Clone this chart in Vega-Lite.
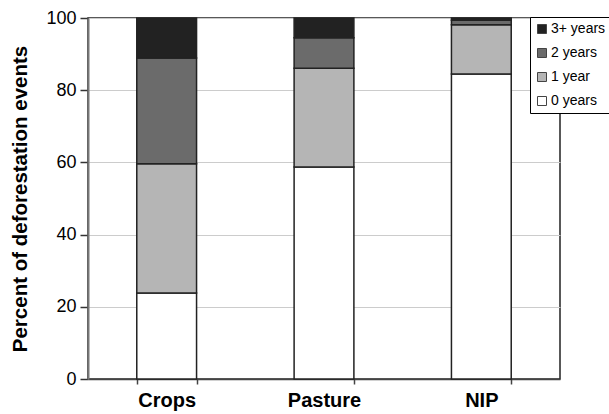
{
  "$schema": "https://vega.github.io/schema/vega-lite/v6.json",
  "width": 472,
  "height": 361,
  "autosize": {"type": "none"},
  "padding": {"left": 88, "top": 18, "right": 49, "bottom": 35},
  "background": "white",
  "config": {
    "font": "Liberation Sans",
    "view": {"stroke": "#222", "strokeWidth": 1.5}
  },
  "data": {
    "values": [
      {"use": "Crops", "age": "0 years", "order": 0, "pct": 23.8},
      {"use": "Crops", "age": "1 year", "order": 1, "pct": 35.8},
      {"use": "Crops", "age": "2 years", "order": 2, "pct": 29.3},
      {"use": "Crops", "age": "3+ years", "order": 3, "pct": 11.1},
      {"use": "Pasture", "age": "0 years", "order": 0, "pct": 58.7},
      {"use": "Pasture", "age": "1 year", "order": 1, "pct": 27.4},
      {"use": "Pasture", "age": "2 years", "order": 2, "pct": 8.4},
      {"use": "Pasture", "age": "3+ years", "order": 3, "pct": 5.5},
      {"use": "NIP", "age": "0 years", "order": 0, "pct": 84.5},
      {"use": "NIP", "age": "1 year", "order": 1, "pct": 13.6},
      {"use": "NIP", "age": "2 years", "order": 2, "pct": 1.3},
      {"use": "NIP", "age": "3+ years", "order": 3, "pct": 0.6}
    ]
  },
  "mark": {"type": "bar", "stroke": "#222", "strokeWidth": 1.5},
  "encoding": {
    "x": {
      "field": "use",
      "type": "nominal",
      "sort": ["Crops", "Pasture", "NIP"],
      "scale": {"paddingInner": 0.62, "paddingOuter": 0.31},
      "axis": {
        "title": null,
        "labelAngle": 0,
        "labelFontSize": 20,
        "labelFontWeight": "bold",
        "labelColor": "#000",
        "labelPadding": 6,
        "tickBand": "extent",
        "domainColor": "#444",
        "domainWidth": 1.5,
        "tickColor": "#444",
        "tickSize": 5,
        "tickWidth": 1.5
      }
    },
    "y": {
      "field": "pct",
      "type": "quantitative",
      "stack": "zero",
      "scale": {"domain": [0, 100], "nice": false},
      "axis": {
        "title": "Percent of deforestation events",
        "titleFontSize": 20.5,
        "titleFontWeight": "bold",
        "titleColor": "#000",
        "titlePadding": 15,
        "values": [0, 20, 40, 60, 80, 100],
        "labelFontSize": 18,
        "labelColor": "#000",
        "labelPadding": 4,
        "grid": true,
        "gridColor": "#ccc",
        "gridWidth": 1.2,
        "domainColor": "#777",
        "domainWidth": 2,
        "tickColor": "#333",
        "tickSize": 8,
        "tickWidth": 1.5
      }
    },
    "color": {
      "field": "age",
      "type": "nominal",
      "sort": ["3+ years", "2 years", "1 year", "0 years"],
      "scale": {
        "domain": ["3+ years", "2 years", "1 year", "0 years"],
        "range": ["#222222", "#6b6b6b", "#b5b5b5", "#ffffff"]
      },
      "legend": {
        "title": null,
        "orient": "none",
        "legendX": 442,
        "legendY": -1,
        "symbolType": "square",
        "symbolSize": 81,
        "symbolStrokeColor": "#444",
        "symbolStrokeWidth": 1,
        "labelFontSize": 14,
        "labelColor": "#000",
        "labelOffset": 2,
        "rowPadding": 10,
        "padding": 5,
        "fillColor": "white",
        "strokeColor": "#000"
      }
    },
    "order": {"field": "order", "type": "quantitative"}
  }
}
